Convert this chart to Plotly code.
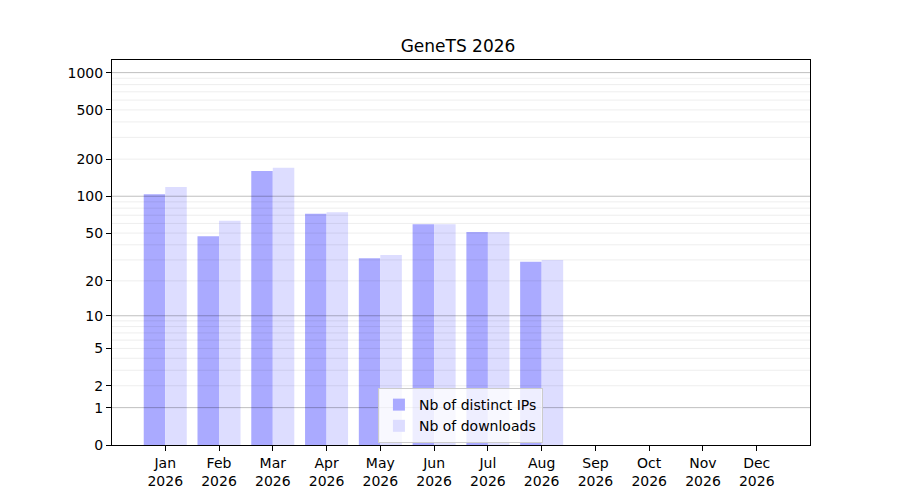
import numpy as np
import plotly.graph_objects as go

months = ["Jan", "Feb", "Mar", "Apr", "May", "Jun", "Jul", "Aug", "Sep", "Oct", "Nov", "Dec"]
year = "2026"
distinct_ips = [104, 47, 160, 72, 31, 59, 51, 29, 0, 0, 0, 0]
downloads = [119, 63, 170, 74, 33, 59, 51, 30, 0, 0, 0, 0]
y_ticks = [0, 1, 2, 5, 10, 20, 50, 100, 200, 500, 1000]


def tr(v):
    # log10(1+x) scale
    return np.log10(1 + np.asarray(v, dtype=float))


x = list(range(len(months)))
xlabels = [m + "<br>" + year for m in months]

fig = go.Figure()
fig.add_trace(go.Bar(x=x, y=tr(distinct_ips), name="Nb of distinct IPs",
                     marker=dict(color="#aaaaff", line=dict(width=0))))
fig.add_trace(go.Bar(x=x, y=tr(downloads), name="Nb of downloads",
                     marker=dict(color="#ddddff", line=dict(width=0))))

# gridlines drawn over the bars
shapes = []
for d in [1, 10, 100, 1000]:
    shapes.append(dict(type="line", xref="paper", x0=0, x1=1, yref="y",
                       y0=float(tr(d)), y1=float(tr(d)), layer="above",
                       line=dict(color="rgba(0,0,0,0.25)", width=1)))
    if d < 1000:
        for k in range(2, 10):
            shapes.append(dict(type="line", xref="paper", x0=0, x1=1, yref="y",
                               y0=float(tr(k * d)), y1=float(tr(k * d)), layer="above",
                               line=dict(color="rgba(0,0,0,0.07)", width=1)))

fig.update_layout(
    width=900, height=500,
    margin=dict(l=104, r=98, t=52, b=63),
    paper_bgcolor="white", plot_bgcolor="white",
    font=dict(family="DejaVu Sans", size=14, color="black"),
    title=dict(text="GeneTS 2026", x=0.5, xanchor="center", y=1 - 38 / 500, yanchor="middle",
               font=dict(size=17)),
    barmode="group", bargap=0.2, bargroupgap=0,
    shapes=shapes,
    legend=dict(x=0.381, y=0.148, xanchor="left", yanchor="top",
                bgcolor="rgba(255,255,255,0.8)", bordercolor="#cccccc", borderwidth=1,
                font=dict(size=14), itemwidth=30, tracegroupgap=0),
)
fig.update_xaxes(range=[-0.99, 11.99], tickmode="array", tickvals=x, ticktext=xlabels,
                 showgrid=False, zeroline=False, showline=True, mirror=True,
                 linecolor="black", linewidth=1, ticks="outside", ticklen=5,
                 tickcolor="black")
fig.update_yaxes(range=[0, 3.102], tickmode="array", tickvals=list(tr(y_ticks)),
                 ticktext=[str(v) for v in y_ticks],
                 showgrid=False, zeroline=False, showline=True, mirror=True,
                 linecolor="black", linewidth=1, ticks="outside", ticklen=5,
                 tickcolor="black")

fig.write_html("out.html")
